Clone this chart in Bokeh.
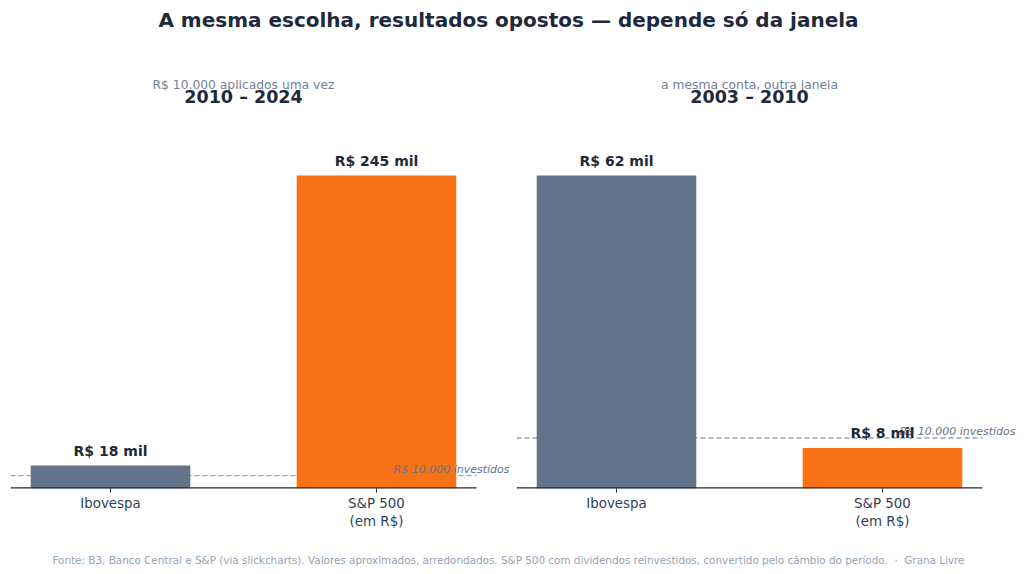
from bokeh.plotting import figure
from bokeh.layouts import column, row
from bokeh.models import ColumnDataSource, Range1d, FixedTicker
from bokeh.core.properties import value
from bokeh.embed import file_html
from bokeh.resources import INLINE

FONT = "DejaVu Sans"

title_text = "A mesma escolha, resultados opostos — depende só da janela"
footer_text = ("Fonte: B3, Banco Central e S&P (via slickcharts). Valores aproximados, arredondados. "
               "S&P 500 com dividendos reinvestidos, convertido pelo câmbio do período.\u00a0\u00a0·\u00a0\u00a0Grana Livre")

categories = ["Ibovespa", "S&P 500\n(em R$)"]
periods = ["2010 – 2024", "2003 – 2010"]
subtitles = ["R$ 10.000 aplicados uma vez", "a mesma conta, outra janela"]
values_2010_2024 = [18, 245]   # R$ mil
values_2003_2010 = [62, 8]     # R$ mil
invested_mil = 10
invested_label = "R$ 10.000 investidos"
bar_colors = ["#64748b", "#f97316"]

DARK = "#1e293b"
MUTED = "#64748b"
LIGHT = "#94a3b8"


def blank(fig):
    fig.xaxis.visible = False
    fig.yaxis.visible = False
    fig.xgrid.visible = False
    fig.ygrid.visible = False
    fig.outline_line_color = None
    fig.background_fill_color = "white"
    fig.border_fill_color = "white"


# ---------- header ----------
HEAD_H = 110
header = figure(width=1024, height=HEAD_H, x_range=Range1d(0, 1024), y_range=Range1d(HEAD_H, 0),
                output_backend="svg", toolbar_location=None,
                min_border=0, min_border_left=0, min_border_right=0, min_border_top=0, min_border_bottom=0)
blank(header)
header.text(x=[508], y=[19], text=[title_text], text_font=value(FONT), text_font_size="20px",
            text_font_style="bold", text_color=DARK, text_align="center", text_baseline="middle")
panel_centers = [243, 749]
header.text(x=panel_centers, y=[84, 84], text=subtitles, text_font=value(FONT), text_font_size="12.3px",
            text_color="#718096", text_align="center", text_baseline="middle")
header.text(x=panel_centers, y=[96, 96], text=periods, text_font=value(FONT), text_font_size="17.5px",
            text_font_style="bold", text_color=DARK, text_align="center", text_baseline="middle")


# ---------- panels ----------
PAD = 0.376          # x padding on each side of the bars (data units)
UNIT_PX = 266        # pixels per category step


def panel(vals, border_left, extra_right_px):
    xs = list(range(len(categories)))
    x_lo = -PAD
    x_hi = len(categories) - 1 + PAD
    src = ColumnDataSource(dict(x=xs, v=vals, c=bar_colors,
                                lab=[f"R$ {v} mil" for v in vals]))
    p = figure(width=512, height=425,
               x_range=Range1d(x_lo, x_hi + extra_right_px / UNIT_PX),
               y_range=Range1d(0, max(vals) * 1.2077),
               output_backend="svg", toolbar_location=None,
               min_border_left=border_left, min_border_right=0,
               min_border_top=0, min_border_bottom=47)
    p.outline_line_color = None
    p.xgrid.visible = False
    p.ygrid.visible = False
    p.yaxis.visible = False
    # reference line of the amount invested (behind the bars)
    p.segment(x0=[x_lo], x1=[x_hi], y0=[invested_mil], y1=[invested_mil], line_color=LIGHT,
              line_width=1.3, line_dash="5 3")
    p.vbar(x="x", top="v", bottom=0, width=0.6, fill_color="c", line_color=None, source=src)
    p.text(x=[len(categories) - 0.5], y=[invested_mil], text=[invested_label],
           text_font=value(FONT), text_font_size="11px", text_font_style="italic",
           text_color=MUTED, text_align="right", text_baseline="bottom", y_offset=0)
    p.text(x="x", y="v", text="lab", source=src, text_font=value(FONT), text_font_size="14px",
           text_font_style="bold", text_color=DARK, text_align="center", text_baseline="bottom",
           y_offset=-7)
    # baseline (axis line)
    p.segment(x0=[x_lo], x1=[x_hi], y0=[0], y1=[0], line_color=DARK, line_width=2.4)
    ax = p.xaxis[0]
    ax.ticker = FixedTicker(ticks=xs)
    ax.major_label_overrides = {i: c for i, c in enumerate(categories)}
    ax.axis_line_color = None
    ax.major_tick_line_color = DARK
    ax.major_tick_in = 0
    ax.major_tick_out = 4
    ax.minor_tick_line_color = None
    ax.major_label_text_font = FONT
    ax.major_label_text_font_size = "13.4px"
    ax.major_label_text_color = "#334155"
    ax.major_label_standoff = 3
    return p


p1 = panel(values_2010_2024, 10, 36)
p2 = panel(values_2003_2010, 4, 42)

# ---------- footer ----------
FOOT_H = 39
footer = figure(width=1024, height=FOOT_H, x_range=Range1d(0, 1024), y_range=Range1d(FOOT_H, 0),
                output_backend="svg", toolbar_location=None,
                min_border=0, min_border_left=0, min_border_right=0, min_border_top=0, min_border_bottom=0)
blank(footer)
footer.text(x=[508], y=[24], text=[footer_text], text_font=value(FONT), text_font_size="10.4px",
            text_color=LIGHT, text_align="center", text_baseline="middle")

layout = column(header, row(p1, p2, spacing=0), footer, spacing=0)
open("out.html", "w").write(file_html(layout, INLINE))
